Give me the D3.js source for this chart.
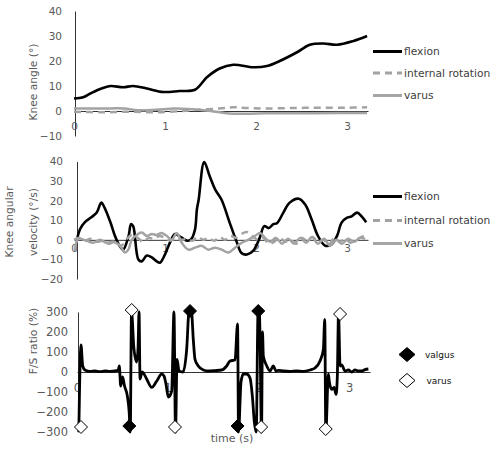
<!DOCTYPE html>
<html><head><meta charset="utf-8">
<script src="https://cdn.jsdelivr.net/npm/d3@7"></script>
<style>
body{margin:0;background:#fff}
svg{display:block}
text{font-family:"DejaVu Sans",Verdana,sans-serif}
</style>
</head><body>
<script>
// ---------------- DATA ----------------
const timeTicks = [0, 1, 2, 3];
const angleTicks = [-10, 0, 10, 20, 30, 40];
const velocityTicks = [-20, -10, 0, 10, 20, 30, 40];
const ratioTicks = [-300, -200, -100, 0, 100, 200, 300];
const seriesNames = ["flexion", "internal rotation", "varus"];
const markerNames = ["valgus", "varus"];

// knee angle (deg): [time s, value]
const angleFlexion = [[0,5],[0.1,5.5],[0.18,7],[0.3,9],[0.4,10],[0.54,9.5],[0.65,10],[0.8,9],[0.98,7.6],[1.16,8],[1.33,8.5],[1.46,13.5],[1.6,17],[1.75,18.5],[1.97,17.5],[2.12,18],[2.26,20],[2.45,23.5],[2.59,26.5],[2.74,27],[2.89,26.5],[3.07,28],[3.22,30]];
const angleIntRot = [[0,-0.3],[0.3,-0.5],[0.6,-0.3],[0.9,-0.5],[1.2,0],[1.4,0.6],[1.6,1],[1.75,1.5],[1.9,1.2],[2.1,1],[2.4,1.2],[2.7,1.3],[3.0,1.3],[3.22,1.5]];
const angleVarus = [[0,1],[0.3,1],[0.55,1],[0.7,0.3],[0.9,0.5],[1.1,1],[1.3,0.7],[1.5,0],[1.7,-1],[1.9,-1.1],[2.1,-0.9],[2.5,-0.9],[2.9,-0.8],[3.22,-0.8]];

// knee angular velocity (deg/s)
const velFlexion = [[0.03,-0.5],[0.066,5.4],[0.12,9],[0.19,11.5],[0.25,14],[0.3,19],[0.33,17],[0.4,9],[0.45,2],[0.5,-3],[0.54,-5],[0.6,2],[0.626,8],[0.65,7],[0.707,-10],[0.744,-11],[0.8,-8],[0.854,-9],[0.909,-11],[0.945,-11.7],[1.0,-7.4],[1.055,-1.3],[1.11,3],[1.18,1.2],[1.25,-0.5],[1.29,0.5],[1.33,5.4],[1.35,15.5],[1.37,20.6],[1.43,39.7],[1.49,32.6],[1.55,25.8],[1.62,20.6],[1.71,8.8],[1.79,-1.4],[1.84,-6.7],[1.9,-7.5],[1.97,-5.5],[2.04,1],[2.09,7],[2.14,6],[2.19,8],[2.23,8.5],[2.3,13.9],[2.37,19],[2.47,21],[2.54,18],[2.61,10.5],[2.68,2],[2.76,-3],[2.83,-2.3],[2.89,2],[2.94,8.8],[3.0,11.3],[3.05,12],[3.11,13.9],[3.16,12],[3.21,9]];
const velIntRot = [[0,0],[0.06,1],[0.12,-0.5],[0.18,0.5],[0.25,-1],[0.32,-0.5],[0.38,-2],[0.45,-1],[0.52,-3],[0.58,0.5],[0.64,2.5],[0.7,1],[0.76,-1],[0.82,1],[0.88,0.5],[0.94,2],[1.0,1],[1.06,-0.5],[1.12,1],[1.18,0],[1.24,0.5],[1.3,-0.5],[1.36,1.5],[1.42,0],[1.48,1],[1.54,-0.5],[1.6,1.5],[1.66,0],[1.72,2],[1.78,1],[1.84,3],[1.9,4],[1.96,2],[2.02,0],[2.08,1],[2.14,-2],[2.2,-1],[2.26,1],[2.32,-1],[2.38,0],[2.44,-2],[2.5,1],[2.56,-0.5],[2.62,1.5],[2.68,-1],[2.74,0],[2.8,-2.5],[2.86,1],[2.92,-1],[2.98,0.5],[3.04,-1.5],[3.1,0],[3.16,1.5],[3.2,2]];
const velVarus = [[0.01,-5.7],[0.047,0.5],[0.14,-0.5],[0.21,-1.5],[0.286,0],[0.36,-1.5],[0.43,-1],[0.505,-3],[0.56,-6.5],[0.597,-5],[0.634,0],[0.689,2.5],[0.744,3.7],[0.8,2],[0.854,3],[0.909,2.5],[0.964,3.5],[1.019,2],[1.074,0],[1.129,3.5],[1.184,-1.5],[1.256,-5],[1.33,-4],[1.403,-3],[1.473,-5],[1.55,-4],[1.623,-5],[1.696,-6.5],[1.769,-4],[1.843,-1.5],[1.915,0],[1.989,2],[2.044,3.5],[2.099,1],[2.154,-1],[2.22,1],[2.286,-2],[2.352,0.5],[2.418,-2],[2.484,1],[2.55,-1.5],[2.615,1.5],[2.681,-2],[2.747,0.5],[2.813,-3],[2.879,0],[2.945,-2],[3.011,0.5],[3.077,-1],[3.143,1],[3.198,0.5]];

// F/S ratio (%)
const fsRatio = [[0.02,-300],[0.044,135],[0.063,30],[0.088,10],[0.143,3],[0.198,5],[0.254,2],[0.309,5],[0.364,3],[0.419,5],[0.455,10],[0.466,30],[0.482,-70],[0.502,-25],[0.524,-70],[0.555,-120],[0.575,-200],[0.587,-300],[0.601,300],[0.628,115],[0.658,50],[0.673,120],[0.684,300],[0.695,-35],[0.717,0],[0.739,-10],[0.768,-35],[0.824,-77],[0.879,-45],[0.934,-10],[0.959,-20],[0.981,-60],[1.007,-125],[1.044,-95],[1.069,300],[1.086,-300],[1.103,63],[1.125,5],[1.169,0],[1.209,113],[1.235,300],[1.262,300],[1.282,163],[1.301,63],[1.337,30],[1.393,10],[1.448,5],[1.521,7],[1.595,10],[1.65,30],[1.687,55],[1.742,60],[1.77,240],[1.781,-300],[1.808,-50],[1.834,-10],[1.871,-10],[1.907,-30],[1.933,-120],[1.955,-250],[1.976,-300],[1.996,300],[2.012,295],[2.034,-300],[2.045,200],[2.054,80],[2.092,30],[2.128,5],[2.164,30],[2.194,5],[2.219,8],[2.275,5],[2.348,3],[2.422,5],[2.492,3],[2.569,10],[2.624,20],[2.679,55],[2.716,113],[2.731,263],[2.743,-300],[2.771,-10],[2.782,-50],[2.808,-87],[2.834,-77],[2.856,-112],[2.87,-20],[2.883,295],[2.9,30],[2.918,35],[2.955,5],[2.991,10],[3.029,0],[3.065,10],[3.101,5],[3.139,5],[3.175,12],[3.212,15]];
const valgusPoints = [[0.577,-270],[1.246,305],[1.77,-270],[1.998,305]];
const varusPoints = [[0.044,-275],[0.603,310],[1.08,-275],[2.03,-275],[2.742,-285],[2.9,290]];

// ---------------- CHART ----------------
const svg = d3.select("body").append("svg").attr("width", 500).attr("height", 451);
const TICK = "#595959", AX = "#333", GRAY = "#a3a3a3";
const smooth = d3.curveCatmullRom.alpha(0.5);

function panel(cfg) {
  const g = svg.append("g");
  const x = d3.scaleLinear().domain([0, 3.23]).range(cfg.xr);
  const y = d3.scaleLinear().domain(cfg.yd).range(cfg.yr);
  const ya = g.append("g").attr("transform", `translate(${cfg.axisX},0)`)
    .call(d3.axisLeft(y).tickValues(cfg.yticks).tickSize(0).tickSizeOuter(0).tickPadding(cfg.yPad).tickFormat(d3.format("d")));
  ya.select(".domain").attr("stroke", AX).attr("stroke-width", 1);
  ya.selectAll("text").attr("fill", TICK).attr("font-size", cfg.fs).attr("font-family", "DejaVu Sans");
  const xa = g.append("g").attr("transform", `translate(0,${y(0)})`)
    .call(d3.axisBottom(x).tickValues(timeTicks).tickSize(0).tickSizeOuter(0).tickPadding(cfg.xPad).tickFormat(d3.format("d")));
  xa.select(".domain").attr("stroke", AX).attr("stroke-width", 1);
  xa.selectAll("text").attr("fill", TICK).attr("font-size", cfg.fs).attr("font-family", "DejaVu Sans");
  cfg.title.forEach((t, i) => {
    g.append("text").attr("transform", `translate(${cfg.titleX[i]},${cfg.titleY}) rotate(-90)`)
      .attr("text-anchor", "middle").attr("dominant-baseline", "central")
      .attr("font-size", 10.7).attr("fill", TICK).text(t);
  });
  return {g, x, y};
}

function drawLines(p, series, curve) {
  series.forEach(s => {
    const line = d3.line().x(d => p.x(d[0])).y(d => p.y(d[1])).curve(curve);
    p.g.append("path").datum(s.data).attr("d", line).attr("fill", "none")
      .attr("stroke", s.color).attr("stroke-width", s.w)
      .attr("stroke-dasharray", s.dash || null).attr("stroke-linejoin", "round");
  });
}

function legend(items, x0, ys) {
  items.forEach((s, i) => {
    svg.append("line").attr("x1", x0).attr("x2", x0 + 29).attr("y1", ys[i]).attr("y2", ys[i])
      .attr("stroke", s.color).attr("stroke-width", s.w + 0.4).attr("stroke-dasharray", s.dash || null);
    svg.append("text").attr("x", x0 + 31).attr("y", ys[i]).attr("dominant-baseline", "central")
      .attr("font-size", 10.7).attr("fill", "#404040").text(s.name);
  });
}

// Top panel
const p1 = panel({xr: [74, 368], yd: [-10, 40], yr: [136, 11], axisX: 75, yticks: angleTicks, yPad: 13, xPad: 12, fs: 10.5,
  title: ["Knee angle (°)"], titleX: [33], titleY: 82});
const s1 = [
  {name: seriesNames[1], data: angleIntRot, color: GRAY, w: 2.5, dash: "7,5"},
  {name: seriesNames[2], data: angleVarus, color: GRAY, w: 2.5},
  {name: seriesNames[0], data: angleFlexion, color: "#000", w: 2.6}
];
drawLines(p1, s1, smooth);
legend([s1[2], s1[0], s1[1]], 373, [51.5, 73, 95.5]);

// Middle panel
const p2 = panel({xr: [74, 368], yd: [-20, 40], yr: [279, 161.5], axisX: 77, yticks: velocityTicks, yPad: 14, xPad: 5, fs: 10.5,
  title: ["Knee angular", "velocity (°/s)"], titleX: [9, 33], titleY: 222});
const s2 = [
  {name: seriesNames[0], data: velFlexion, color: "#000", w: 2.6},
  {name: seriesNames[1], data: velIntRot, color: GRAY, w: 2.5, dash: "7,5"},
  {name: seriesNames[2], data: velVarus, color: GRAY, w: 2.5}
];
drawLines(p2, s2, smooth);
legend([s2[0], s2[1], s2[2]], 373, [196.5, 220.5, 243.5]);

// Bottom panel
const p3 = panel({xr: [77, 370], yd: [-300, 300], yr: [432, 312], axisX: 78, yticks: ratioTicks, yPad: 10, xPad: 12, fs: 11.5,
  title: ["F/S ratio (%)"], titleX: [33], titleY: 341});
drawLines(p3, [{data: fsRatio, color: "#000", w: 2.8}], d3.curveMonotoneX);
p3.g.append("text").attr("x", 232).attr("y", 442).attr("text-anchor", "middle")
  .attr("font-size", 11).attr("fill", TICK).text("time (s)");

const diamond = (hw, hh) => `M0,${-hh}L${hw},0L0,${hh}L${-hw},0Z`;
p3.g.selectAll(".valg").data(valgusPoints).join("path")
  .attr("d", diamond(6.5, 6.5)).attr("transform", d => `translate(${p3.x(d[0])},${p3.y(d[1])})`)
  .attr("fill", "#000").attr("stroke", "#000");
p3.g.selectAll(".var").data(varusPoints).join("path")
  .attr("d", diamond(6.5, 6.5)).attr("transform", d => `translate(${p3.x(d[0])},${p3.y(d[1])})`)
  .attr("fill", "#fff").attr("stroke", "#000").attr("stroke-width", 1);

[[markerNames[0], "#000", 354.5], [markerNames[1], "#fff", 380.5]].forEach(([n, f, yy]) => {
  svg.append("path").attr("d", diamond(8, 7)).attr("transform", `translate(407,${yy})`)
    .attr("fill", f).attr("stroke", "#000");
  svg.append("text").attr("x", n === "valgus" ? 425 : 426.5).attr("y", yy).attr("dominant-baseline", "central")
    .attr("font-size", 9).attr("font-family", "Liberation Sans").attr("fill", "#111").text(n);
});
</script>
</body></html>
